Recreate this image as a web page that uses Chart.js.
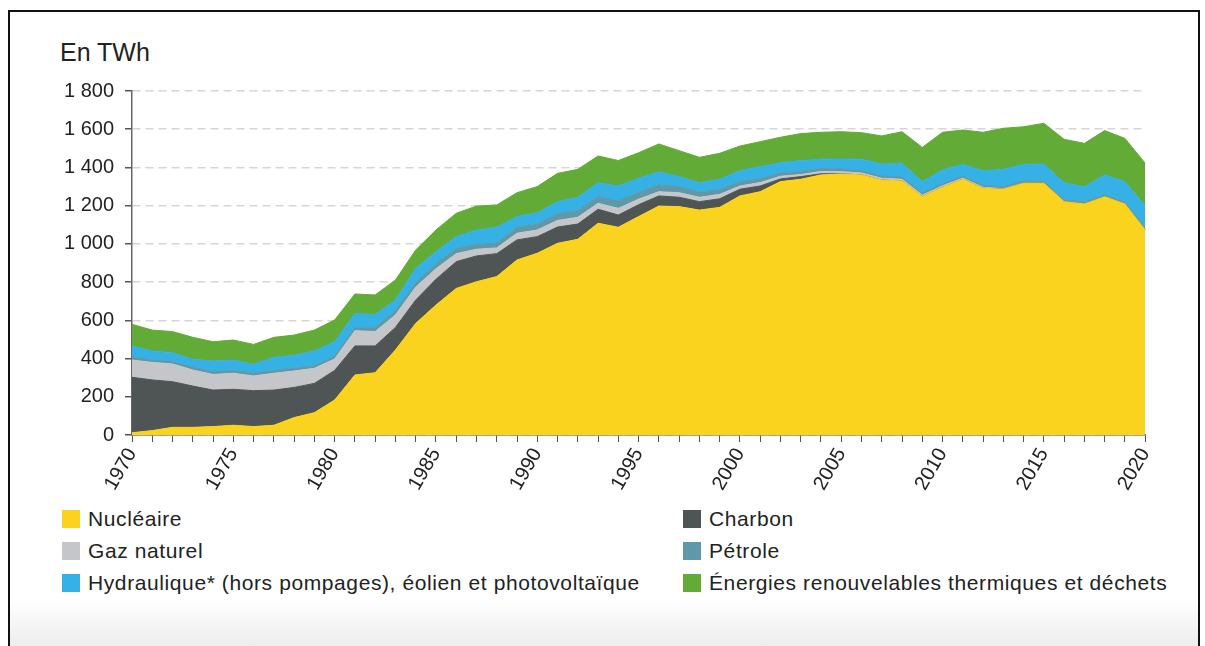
<!DOCTYPE html>
<html lang="fr">
<head>
<meta charset="utf-8">
<title>Production d'énergie primaire</title>
<script src="https://cdn.jsdelivr.net/npm/chart.js@4.4.1/dist/chart.umd.min.js"></script>
<style>
  html, body { margin: 0; padding: 0; background: #fff; }
  body { width: 1205px; height: 646px; overflow: hidden; position: relative;
         font-family: "Liberation Sans", Arial, Helvetica, sans-serif; color: #222; }
  .frame { position: absolute; left: 8px; top: 10px; width: 1192px; height: 700px;
           border: 2px solid #111; box-sizing: border-box;
           background: linear-gradient(to bottom, #fff 0, #fff 588px, #ececec 636px); }
  .unit { position: absolute; left: 60px; top: 39px; font-size: 25px; line-height: 26px; }
  #wrap { position: absolute; left: 32px; top: 68px; width: 1136px; height: 437px; }
  .item { position: absolute; font-size: 21px; letter-spacing: 0.6px; line-height: 24px; white-space: nowrap; }
  .item span.box { display: inline-block; width: 18px; height: 18px; vertical-align: -2px; margin-right: 8px; }
</style>
</head>
<body>
<div class="frame"></div>
<div class="unit">En TWh</div>
<div id="wrap"><canvas id="chart"></canvas></div>
<div id="legend"></div>
<script>
// Production d'énergie primaire, en TWh
const years = ['1970','1971','1972','1973','1974','1975','1976','1977','1978','1979',
  '1980','1981','1982','1983','1984','1985','1986','1987','1988','1989',
  '1990','1991','1992','1993','1994','1995','1996','1997','1998','1999',
  '2000','2001','2002','2003','2004','2005','2006','2007','2008','2009',
  '2010','2011','2012','2013','2014','2015','2016','2017','2018','2019','2020'];
const yearLabels = ['1970','1975','1980','1985','1990','1995','2000','2005','2010','2015','2020'];

const nucleaire = [12,23,40,40,44,51,44,51,91,117,
  183,314,326,445,584,680,767,802,829,916,
  951,1003,1024,1108,1087,1143,1198,1195,1177,1191,
  1251,1273,1326,1338,1361,1366,1361,1334,1329,1247,
  1296,1338,1291,1286,1317,1317,1221,1209,1247,1209,1073];
const charbon = [290,265,239,216,191,188,188,184,158,153,
  155,152,140,118,122,135,140,135,120,105,
  87,85,80,73,64,62,53,49,44,45,
  35,30,14,14,6,1,0,0,0,0,
  0,0,0,0,0,0,0,0,0,0,0];
const gaz = [90,92,93,84,82,84,77,88,86,79,
  60,80,75,65,68,55,42,35,30,35,
  35,35,35,31,35,29,22,24,23,23,
  17,18,14,11,12,11,10,9,9,8,
  8,6,5,3,1,0,0,0,0,0,0];
const petrole = [14,12,12,14,13,14,14,14,14,12,
  14,14,20,22,21,26,27,25,25,31,
  30,35,35,35,38,36,35,32,28,25,
  22,20,18,16,15,14,13,12,12,11,
  11,11,10,10,10,10,9,9,9,9,8];
const hydraulique = [60,48,47,42,57,55,47,69,68,79,
  76,75,69,56,77,63,62,76,83,56,
  60,63,70,73,79,73,70,52,48,54,
  58,63,53,57,49,52,59,63,72,60,
  72,61,77,91,88,91,90,81,105,108,117];
const enrThermiques = [113,109,110,115,101,105,104,105,106,109,
  114,103,103,105,96,114,122,125,117,125,
  137,148,146,140,133,134,145,136,133,136,
  129,131,133,141,141,143,139,147,165,179,
  197,180,201,215,197,213,227,227,232,226,224];

const yTicks = [0,200,400,600,800,1000,1200,1400,1600,1800];
const yTickLabels = ['0','200','400','600','800','1 000','1 200','1 400','1 600','1 800'];

const series = [
  { label: 'Nucléaire', data: nucleaire, color: '#f9d31e' },
  { label: 'Charbon', data: charbon, color: '#4f5455' },
  { label: 'Gaz naturel', data: gaz, color: '#c5c6ca' },
  { label: 'Pétrole', data: petrole, color: '#5f98a8' },
  { label: 'Hydraulique* (hors pompages), éolien et photovoltaïque', data: hydraulique, color: '#35b1e6' },
  { label: 'Énergies renouvelables thermiques et déchets', data: enrThermiques, color: '#63ab37' }
];

const family = '"Liberation Sans", Arial, Helvetica, sans-serif';

const chart = new Chart(document.getElementById('chart'), {
  type: 'line',
  data: {
    labels: years,
    datasets: series.map((s, i) => ({
      label: s.label,
      data: s.data,
      backgroundColor: s.color,
      borderColor: s.color,
      borderWidth: 1,
      pointRadius: 0,
      tension: 0,
      fill: i === 0 ? 'origin' : '-1'
    }))
  },
  options: {
    responsive: true,
    maintainAspectRatio: false,
    animation: false,
    layout: { padding: { top: 10, right: 15, left: 0, bottom: 0 } },
    plugins: { legend: { display: false }, tooltip: { enabled: false } },
    scales: {
      x: {
        grid: { drawOnChartArea: false, drawTicks: true, tickLength: 7, tickColor: '#555', tickWidth: 1 },
        border: { color: '#555', width: 1.5 },
        ticks: {
          autoSkip: false, maxRotation: 60, minRotation: 60, padding: 2,
          color: '#222', font: { size: 20, family: family },
          callback: function (v) {
            const l = this.getLabelForValue(v);
            return yearLabels.includes(l) ? l : '';
          }
        },
        afterFit: s => { s.height = 70; }
      },
      y: {
        stacked: true, min: 0, max: 1800,
        ticks: {
          stepSize: 200, padding: 11, color: '#222', font: { size: 20, family: family },
          callback: v => yTickLabels[yTicks.indexOf(v)]
        },
        grid: { color: '#d6d6d6', lineWidth: 1.5, drawTicks: true, tickLength: 7, tickColor: '#555' },
        border: { color: '#666', width: 1.5, dash: [8, 5] },
        afterFit: s => { s.width = 100; }
      }
    }
  }
});

// légende sur deux colonnes
const legend = document.getElementById('legend');
series.forEach((s, i) => {
  const div = document.createElement('div');
  div.className = 'item';
  div.style.left = (i % 2 ? 683 : 62) + 'px';
  div.style.top = (507 + Math.floor(i / 2) * 32) + 'px';
  div.innerHTML = '<span class="box" style="background:' + s.color + '"></span>' + s.label;
  legend.appendChild(div);
});
</script>
</body>
</html>
